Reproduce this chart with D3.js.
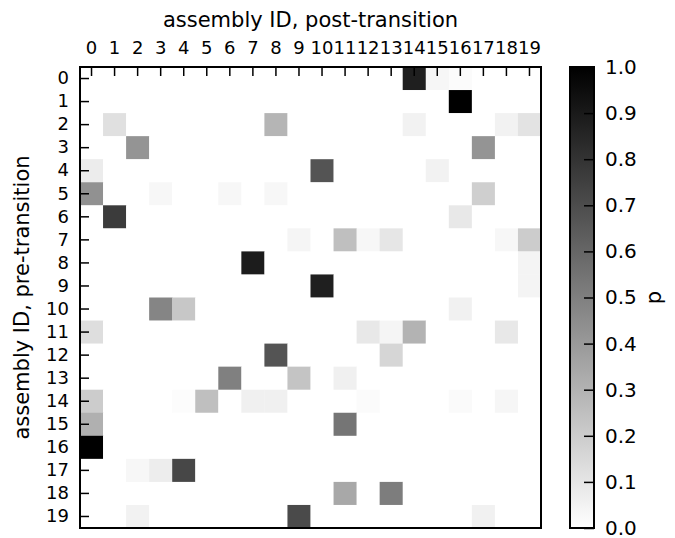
<!DOCTYPE html>
<html>
<head>
<meta charset="utf-8">
<script src="https://cdn.jsdelivr.net/npm/d3@7"></script>
<style>
  body { margin: 0; background: #fff; }
  text { font-family: "DejaVu Sans", sans-serif; fill: #000; }
</style>
</head>
<body>
<div id="chart"></div>
<script>
// assembly ids (rows = pre-transition, cols = post-transition)
var assemblyIds = ['0','1','2','3','4','5','6','7','8','9','10','11','12','13','14','15','16','17','18','19'];
var colorbarTicks = [0, 0.1, 0.2, 0.3, 0.4, 0.5, 0.6, 0.7, 0.8, 0.9, 1.0];

// transition probability p, one row per pre-transition assembly
var pRows = [
    [0,0,0,0,0,0,0,0,0,0, 0,0,0,0,0.88,0.035,0.015,0,0,0],
    [0,0,0,0,0,0,0,0,0,0, 0,0,0,0,0,0,1.0,0,0,0],
    [0,0.12,0,0,0,0,0,0,0.29,0, 0,0,0,0,0.05,0,0,0,0.05,0.11],
    [0,0,0.42,0,0,0,0,0,0,0, 0,0,0,0,0,0,0,0.42,0,0],
    [0.075,0,0,0,0,0,0,0,0,0, 0.67,0,0,0,0,0.05,0,0,0,0],
    [0.43,0,0,0.03,0,0,0.03,0,0.03,0, 0,0,0,0,0,0,0,0.19,0,0],
    [0,0.77,0,0,0,0,0,0,0,0, 0,0,0,0,0,0,0.09,0,0,0],
    [0,0,0,0,0,0,0,0,0,0.04, 0,0.25,0.03,0.10,0,0,0,0,0.03,0.20],
    [0,0,0,0,0,0,0,0.89,0,0, 0,0,0,0,0,0,0,0,0,0.045],
    [0,0,0,0,0,0,0,0,0,0, 0.88,0,0,0,0,0,0,0,0,0.045],
    [0,0,0,0.48,0.22,0,0,0,0,0, 0,0,0,0,0,0,0.055,0,0,0],
    [0.13,0,0,0,0,0,0,0,0,0, 0,0,0.09,0.04,0.30,0,0,0,0.09,0],
    [0,0,0,0,0,0,0,0,0.67,0, 0,0,0,0.16,0,0,0,0,0,0],
    [0,0,0,0,0,0,0.50,0,0,0.23, 0,0.06,0,0,0,0,0,0,0,0],
    [0.20,0,0,0,0.01,0.25,0,0.06,0.06,0, 0,0,0.015,0,0,0,0.02,0,0.035,0],
    [0.31,0,0,0,0,0,0,0,0,0, 0,0.54,0,0,0,0,0,0,0,0],
    [1.0,0,0,0,0,0,0,0,0,0, 0,0,0,0,0,0,0,0,0,0],
    [0,0,0.03,0.07,0.72,0,0,0,0,0, 0,0,0,0,0,0,0,0,0,0],
    [0,0,0,0,0,0,0,0,0,0, 0,0.34,0,0.51,0,0,0,0,0,0],
    [0,0,0.05,0,0,0,0,0,0,0.71, 0,0,0,0,0,0,0,0.055,0,0]
];

var width = 675, height = 538;
var plotX = 80, plotY = 67, plotSize = 461;
var cbX = 570, cbWidth = 24;

var svg = d3.select('#chart').append('svg')
    .attr('width', width).attr('height', height);

var x = d3.scaleBand().domain(assemblyIds).range([plotX, plotX + plotSize]);
var y = d3.scaleBand().domain(assemblyIds).range([plotY, plotY + plotSize]);
var color = d3.scaleLinear().domain([0, 1]).range(['#ffffff', '#000000']);

// cells
var cells = [];
pRows.forEach(function(row, i) {
    row.forEach(function(v, j) {
        cells.push({ r: assemblyIds[i], c: assemblyIds[j], v: v });
    });
});
svg.append('g').selectAll('rect').data(cells).join('rect')
    .attr('x', function(d) { return x(d.c); })
    .attr('y', function(d) { return y(d.r); })
    .attr('width', x.bandwidth() + 0.3)
    .attr('height', y.bandwidth() + 0.3)
    .attr('fill', function(d) { return color(d.v); });

// axes, ticks pointing inward
var xAxis = svg.append('g').attr('transform', 'translate(0,' + plotY + ')')
    .call(d3.axisTop(x).tickSize(-9).tickPadding(13));
var yAxis = svg.append('g').attr('transform', 'translate(' + plotX + ',0)')
    .call(d3.axisLeft(y).tickSize(-9).tickPadding(11));
[xAxis, yAxis].forEach(function(g) {
    g.select('.domain').remove();
    g.selectAll('line').attr('stroke', '#000').attr('stroke-width', 1.5);
    g.selectAll('text').style('font-size', '18px').attr('font-family', null);
});

svg.append('rect')
    .attr('x', plotX).attr('y', plotY).attr('width', plotSize).attr('height', plotSize)
    .attr('fill', 'none').attr('stroke', '#000').attr('stroke-width', 2);

svg.append('text')
    .attr('x', plotX + plotSize / 2).attr('y', 27)
    .attr('text-anchor', 'middle').style('font-size', '21px')
    .text('assembly ID, post-transition');
svg.append('text')
    .attr('transform', 'translate(29,' + (plotY + plotSize / 2) + ') rotate(-90)')
    .attr('text-anchor', 'middle').style('font-size', '21px')
    .text('assembly ID, pre-transition');

// colorbar
var defs = svg.append('defs');
var grad = defs.append('linearGradient').attr('id', 'cbGrad')
    .attr('x1', 0).attr('y1', 1).attr('x2', 0).attr('y2', 0);
grad.append('stop').attr('offset', 0).attr('stop-color', color(0));
grad.append('stop').attr('offset', 1).attr('stop-color', color(1));

var cbScale = d3.scaleLinear().domain([0, 1]).range([plotY + plotSize, plotY]);
svg.append('rect')
    .attr('x', cbX).attr('y', plotY).attr('width', cbWidth).attr('height', plotSize)
    .attr('fill', 'url(#cbGrad)');
var cbAxis = svg.append('g').attr('transform', 'translate(' + (cbX + cbWidth) + ',0)')
    .call(d3.axisRight(cbScale).tickValues(colorbarTicks).tickFormat(d3.format('.1f'))
        .tickSize(-10).tickPadding(11));
cbAxis.select('.domain').remove();
cbAxis.selectAll('line').attr('stroke', '#000').attr('stroke-width', 1.5);
cbAxis.selectAll('text').style('font-size', '20px').attr('font-family', null);
svg.append('rect')
    .attr('x', cbX).attr('y', plotY).attr('width', cbWidth).attr('height', plotSize)
    .attr('fill', 'none').attr('stroke', '#000').attr('stroke-width', 2);

svg.append('text')
    .attr('transform', 'translate(661,' + (plotY + plotSize / 2) + ') rotate(-90)')
    .attr('text-anchor', 'middle').style('font-size', '21px')
    .text('p');
</script>
</body>
</html>
